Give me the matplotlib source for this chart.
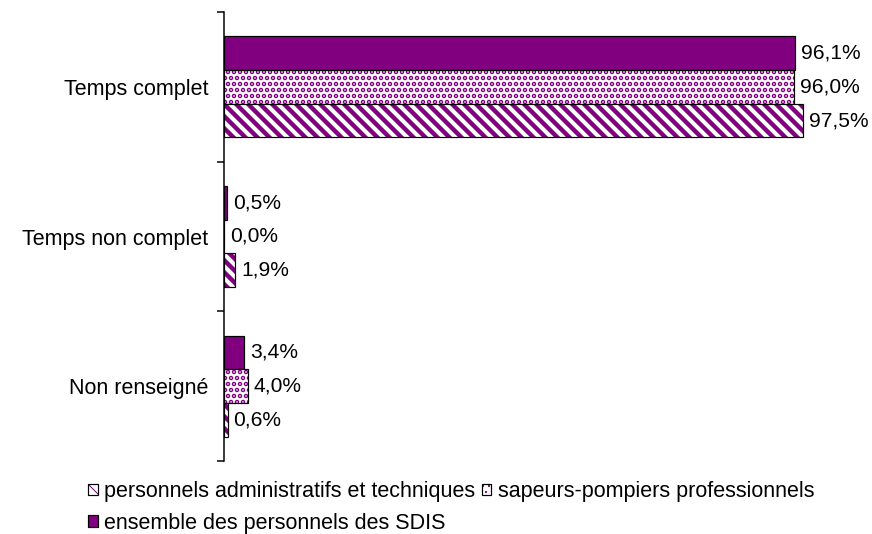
import matplotlib
matplotlib.use('Agg')
import matplotlib.pyplot as plt
import numpy as np
from matplotlib.legend_handler import HandlerTuple

plt.rcParams['font.family'] = ['Liberation Sans', 'DejaVu Sans']

categories = ['Temps complet', 'Temps non complet', 'Non renseigné']
series_names = ['personnels administratifs et techniques',
                'sapeurs-pompiers professionnels',
                'ensemble des personnels des SDIS']
admin = [97.5, 1.9, 0.6]
spp = [96.0, 0.0, 4.0]
ensemble = [96.1, 0.5, 3.4]

PURPLE = '#800080'
DPI = 72
W, H = 872, 534
fig = plt.figure(figsize=(W / DPI, H / DPI), dpi=DPI)
ax = fig.add_axes([224 / W, 1 - 461 / H, 594 / W, 449 / H])

y = np.arange(len(categories))
h = 0.225
FS = 21.5
VFS = 21

styles = [
    # (values, offset, facecolor, hatch, hatch lw)
    (ensemble, -h, PURPLE, None, 1.0),
    (spp, 0.0, 'white', '..', 3.2),
    (admin, h, 'white', '\\\\', 4.4),
]
handles = []
for vals, off, fc, hatch, hlw in styles:
    with plt.rc_context({'hatch.linewidth': hlw}):
        fill = ax.barh(y + off, vals, height=h, color=fc, edgecolor=PURPLE,
                       linewidth=0, hatch=hatch)
        for p in fill:
            if hasattr(p, 'set_hatch_linewidth'):
                p.set_hatch_linewidth(hlw)
    edge = ax.barh(y + off, vals, height=h, fill=False, edgecolor='black',
                   linewidth=1.2)
    handles.append((fill[0], edge[0]))
    for yi, v in zip(y + off, vals):
        ax.annotate(f"{v:.1f}%".replace('.', ','), xy=(v, yi), xytext=(6, 0),
                    textcoords='offset points', va='center', ha='left',
                    fontsize=VFS, color='black')

ax.set_xlim(0, 100)
ax.set_ylim(len(categories) - 0.5, -0.5)
for s in ['top', 'right', 'bottom']:
    ax.spines[s].set_visible(False)
ax.spines['left'].set_linewidth(1.5)
ax.xaxis.set_visible(False)
ax.set_yticks(np.arange(len(categories) + 1) - 0.5)
ax.set_yticklabels([])
ax.tick_params(axis='y', which='major', length=7, width=1.5, direction='out')
ax.set_yticks(y, minor=True)
ax.set_yticklabels(categories, minor=True, fontsize=FS)
ax.tick_params(axis='y', which='minor', length=0, pad=16)

# legend in column-major order so that rows read: admin, spp / ensemble
# handles indices: 0 ensemble, 1 spp, 2 admin
leg_handles = [handles[2], handles[0], handles[1]]
leg_labels = [series_names[0], series_names[2], series_names[1]]
fig.legend(handles=leg_handles, labels=leg_labels, ncol=2, loc='upper left',
           bbox_to_anchor=(88 / W, 1 - 481 / H), frameon=False, fontsize=FS,
           handlelength=0.45, handleheight=0.45, handletextpad=0.3,
           columnspacing=0.3, labelspacing=0.5, borderpad=0, borderaxespad=0,
           handler_map={tuple: HandlerTuple(ndivide=1)})

fig.savefig('out.png', dpi=DPI)
